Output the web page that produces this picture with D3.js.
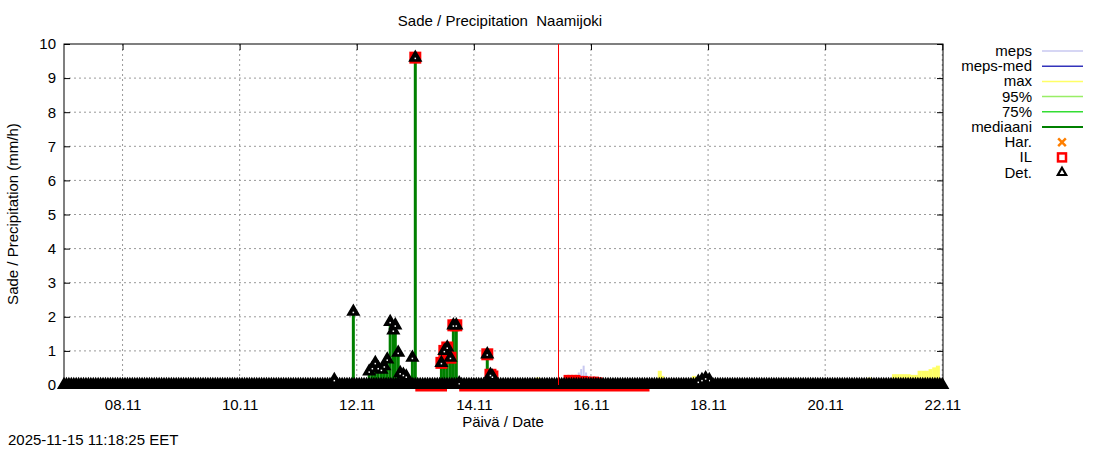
<!DOCTYPE html>
<html><head><meta charset="utf-8">
<script src="https://cdn.jsdelivr.net/npm/d3@7"></script>
<style>body{margin:0;background:#fff}text{font-family:"Liberation Sans",Arial,sans-serif}</style>
</head><body><svg id="c" width="1100" height="450"></svg>
<script>
const tickLabels=["08.11","10.11","12.11","14.11","16.11","18.11","20.11","22.11"];
const yTicks=[0,1,2,3,4,5,6,7,8,9,10];
const detHours=[110.8,118.6,125.1,126.4,127.6,128.8,130.1,131.3,132.5,133.7,135,135.8,137,137.8,139.1,140.3,142.8,144,154.7,155.9,157.1,158.4,159.6,160.8,162,173.5,174.8,175.6,260,261.5,263,264.5];
const detVals =[0.15,2.15,0.4,0.5,0.65,0.5,0.45,0.55,0.75,1.85,1.6,1.75,0.95,0.35,0.3,0.25,0.8,9.6,0.65,1.0,1.1,0.8,1.75,1.75,0.05,0.9,0.3,0.25,0.1,0.15,0.2,0.15];
const medVals =[0.15,2.15,0.4,0.5,0.65,0.5,0.45,0.55,0.75,1.85,1.6,1.75,0.95,0.35,0.3,0.25,0.8,9.6,0.65,1.0,1.1,0.8,1.75,1.75,0.05,0.9,0.3,0.25,0,0,0,0];
const detEnd=360;
const ilHours=[144,154.7,155.9,157.1,158.4,159.6,160.8,173.5,174.8,175.6];
const ilVals =[9.6,0.65,1.0,1.1,0.8,1.75,1.75,0.9,0.3,0.25];
const ilZeroHours=[[144,157],[162,240]];
const ilLowHours=[206,207.5,209,210.5,212,213.5,215,216.5,218,219.5];
const ilLowVals=[0.15,0.15,0.15,0.15,0.12,0.12,0.1,0.1,0.1,0.08];
const mepsHours=[210,211,212,213,214,215];
const mepsVals=[0.15,0.25,0.35,0.45,0.25,0.15];
const maxHours=[194,244,245,258,330,340,341.5,343,344.5,346,347.5,349,350.5,352,353.5,355,356.5,358];
const maxVals =[0.1,0.3,0.15,0.15,0.1,0.2,0.2,0.2,0.2,0.2,0.18,0.18,0.3,0.3,0.3,0.35,0.4,0.45];
const nowHours=202.7;

const svg=d3.select("#c");
const L=64,R=943,T=44,B=385;
const t0=Date.UTC(2025,10,7);
const H=h=>new Date(t0+h*3600e3);
const x=d3.scaleUtc().domain([H(0),H(360.3)]).range([L,R]);
const y=d3.scaleLinear().domain([0,10]).range([B,T]);
const tickDates=tickLabels.map(s=>{const [d,m]=s.split(".").map(Number);return new Date(Date.UTC(2025,m-1,d));});

const g=svg.append("g");
g.selectAll(".gx").data(tickDates).join("line").attr("x1",d=>x(d)).attr("x2",d=>x(d)).attr("y1",T).attr("y2",B)
 .attr("stroke","#999").attr("stroke-dasharray","2,3");
g.selectAll(".gy").data(yTicks.slice(1,-1)).join("line").attr("x1",L).attr("x2",R).attr("y1",d=>y(d)).attr("y2",d=>y(d))
 .attr("stroke","#999").attr("stroke-dasharray","2,3");
svg.append("g").attr("transform",`translate(0,${B})`).call(d3.axisBottom(x).tickValues(tickDates).tickFormat((d,i)=>tickLabels[i]).tickSize(-6).tickPadding(14));
svg.append("g").attr("transform",`translate(${L},0)`).call(d3.axisLeft(y).tickValues(yTicks).tickSize(-6).tickPadding(8));
svg.append("g").attr("transform",`translate(${R},0)`).call(d3.axisRight(y).tickValues(yTicks).tickSize(-6).tickFormat(""));
svg.append("g").attr("transform",`translate(0,${T})`).call(d3.axisTop(x).tickValues(tickDates).tickSize(-6).tickFormat(""));
svg.selectAll(".domain").remove();
svg.selectAll(".tick text").attr("font-size",15).attr("fill","#000").attr("font-family","Liberation Sans, Arial");
svg.append("rect").attr("x",L).attr("y",T).attr("width",R-L).attr("height",B-T).attr("fill","none").attr("stroke","#000");

svg.append("line").attr("x1",x(H(nowHours))).attr("x2",x(H(nowHours))).attr("y1",T).attr("y2",B).attr("stroke","red");
g.selectAll(".ilz").data(ilZeroHours).join("line").attr("x1",d=>x(H(d[0]))).attr("x2",d=>x(H(d[1])))
 .attr("y1",B+5).attr("y2",B+5).attr("stroke","red").attr("stroke-width",3);
g.append("line").attr("x1",L).attr("x2",R).attr("y1",B).attr("y2",B).attr("stroke","#000").attr("stroke-width",7);
const bw=3;
g.selectAll(".mx").data(maxHours).join("rect").attr("x",(d)=>x(H(d))-bw/2).attr("width",bw+1)
 .attr("y",(d,i)=>y(maxVals[i])-4).attr("height",(d,i)=>B-y(maxVals[i])).attr("fill","#ffff66");
g.selectAll(".mp").data(mepsHours).join("rect").attr("x",(d)=>x(H(d))-1).attr("width",2)
 .attr("y",(d,i)=>y(mepsVals[i])-4).attr("height",(d,i)=>B-y(mepsVals[i])).attr("fill","#c8c8f0");
g.selectAll(".md").data(detHours).join("line").attr("x1",d=>x(H(d))).attr("x2",d=>x(H(d)))
 .attr("y1",B).attr("y2",(d,i)=>y(medVals[i])).attr("stroke","#008000").attr("stroke-width",3);
g.selectAll(".ill").data(ilLowHours).join("rect").attr("x",d=>x(H(d))-3).attr("width",6)
 .attr("y",(d,i)=>y(ilLowVals[i])-5).attr("height",4).attr("fill","red");
g.selectAll(".il").data(ilHours).join("rect")
 .attr("x",d=>x(H(d))-6).attr("y",(d,i)=>y(ilVals[i])-6).attr("width",12).attr("height",12).attr("fill","red");
const detAll=[];
for(let h=0;h<=detEnd;h+=1)detAll.push([h,0]);
detHours.forEach((h,i)=>detAll.push([h,detVals[i]]));
const tri=d3.symbol().type(d3.symbolTriangle).size(50);
g.selectAll(".dt").data(detAll).join("path").attr("d",tri)
 .attr("transform",d=>`translate(${x(H(d[0]))},${y(d[1])})`).attr("fill","#000").attr("stroke","#000").attr("stroke-width",2);
g.selectAll(".dtw").data(detAll.filter(d=>d[1]>0)).join("rect").attr("x",d=>x(H(d[0]))-0.75).attr("y",d=>y(d[1])).attr("width",1.5).attr("height",1.5).attr("fill","#fff");

svg.append("text").attr("x",500).attr("y",26).attr("text-anchor","middle").attr("font-size",15).attr("xml:space","preserve").text("Sade / Precipitation  Naamijoki");
svg.append("text").attr("x",503).attr("y",427).attr("text-anchor","middle").attr("font-size",15).text("Päivä / Date");
svg.append("text").attr("transform","translate(18,214) rotate(-90)").attr("text-anchor","middle").attr("font-size",15).text("Sade / Precipitation (mm/h)");
svg.append("text").attr("x",8).attr("y",445).attr("font-size",15).text("2025-11-15 11:18:25 EET");

const leg=[["meps","line","#c8c8f0"],["meps-med","line","#3333bb"],["max","line","#ffff66"],["95%","line","#99ee66"],["75%","line","#33dd33"],["mediaani","line","#008000"],["Har.","x","#ff7f00"],["IL","sq","red"],["Det.","tri","#000"]];
leg.forEach((l,i)=>{const yy=51+i*15.2;
 svg.append("text").attr("x",1032).attr("y",yy+5).attr("text-anchor","end").attr("font-size",15).text(l[0]);
 if(l[1]==="line")svg.append("line").attr("x1",1042).attr("x2",1083).attr("y1",yy).attr("y2",yy).attr("stroke",l[2]).attr("stroke-width",l[0]==="mediaani"?2:1.5);
 else if(l[1]==="x")svg.append("path").attr("d",d3.symbol().type(d3.symbolX).size(40)()).attr("transform",`translate(1062,${yy})`).attr("stroke",l[2]).attr("stroke-width",2.5);
 else if(l[1]==="sq")svg.append("rect").attr("x",1058).attr("y",yy-4).attr("width",8).attr("height",8).attr("fill","none").attr("stroke",l[2]).attr("stroke-width",2.5);
 else {svg.append("path").attr("d",d3.symbol().type(d3.symbolTriangle).size(30)()).attr("transform",`translate(1062,${yy})`).attr("fill","#fff").attr("stroke","#000").attr("stroke-width",2.2);}
});
</script></body></html>
